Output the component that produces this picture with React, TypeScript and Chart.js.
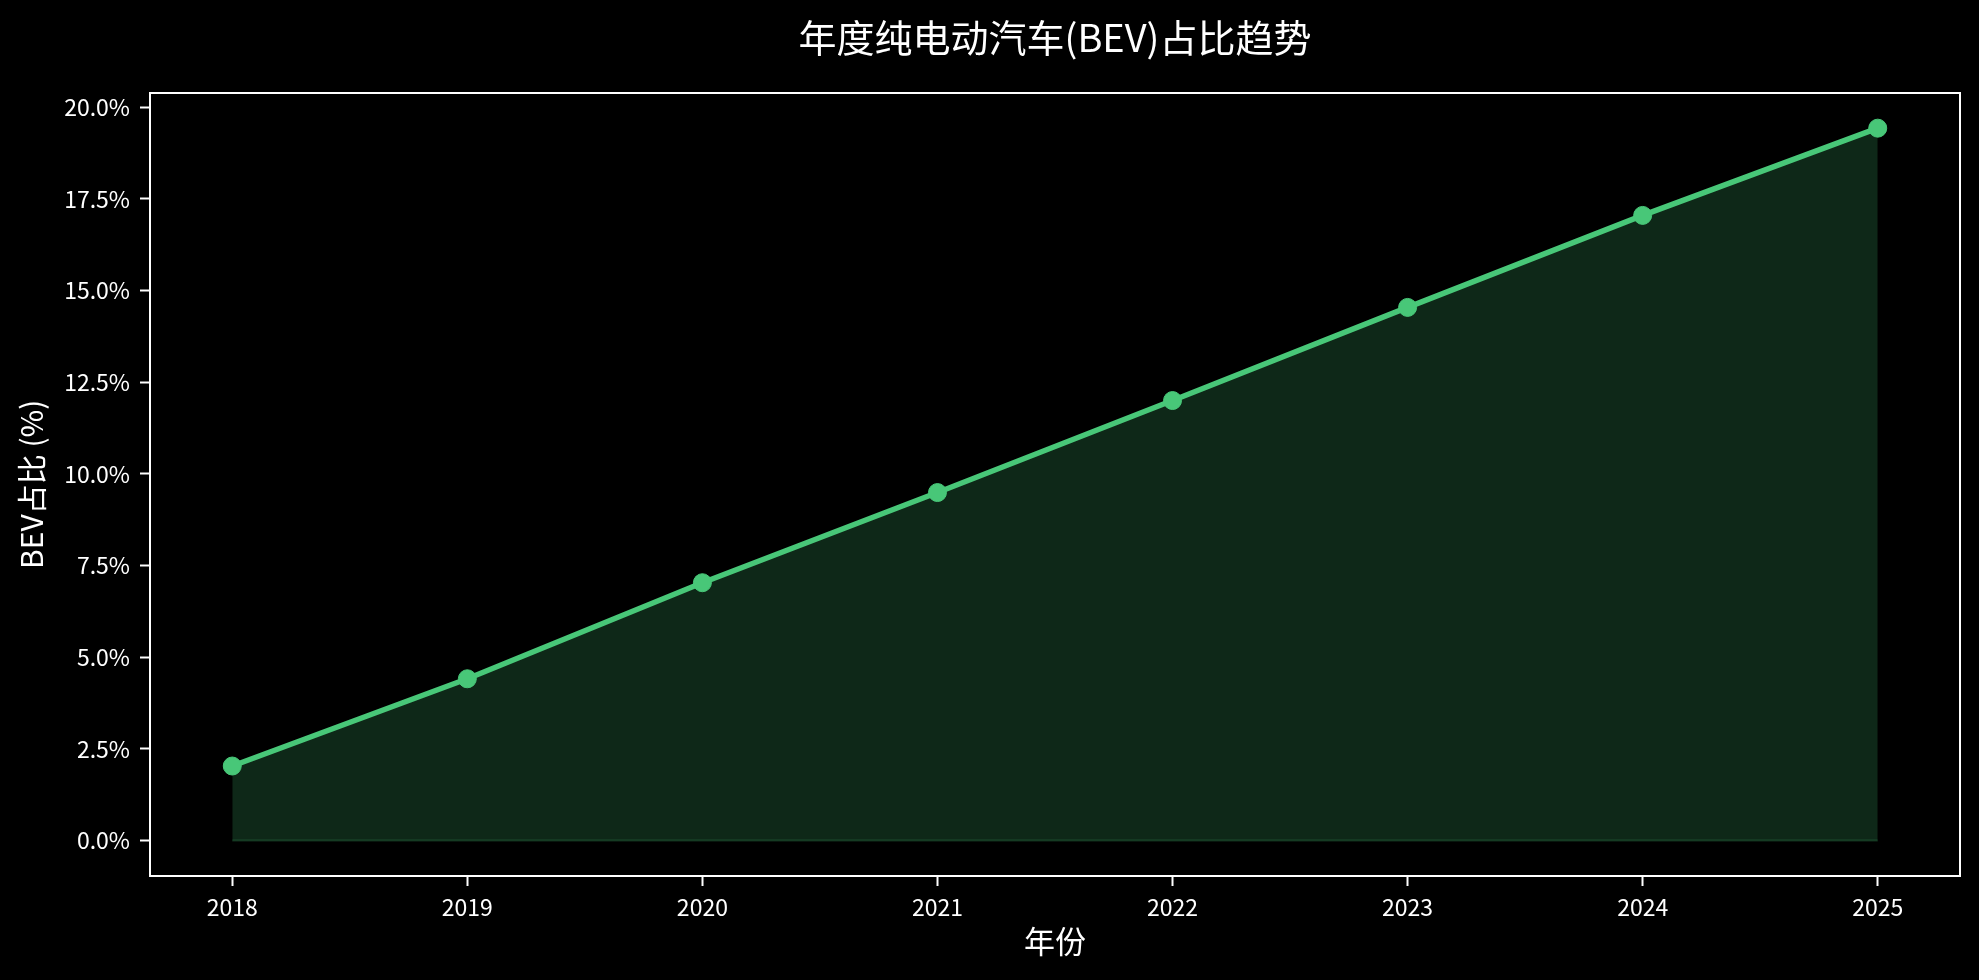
import React, { useEffect, useRef } from "react";
import { Chart, registerables } from "chart.js";

Chart.register(...registerables);

const years = [2018, 2019, 2020, 2021, 2022, 2023, 2024, 2025];
const bevShare = [2.03, 4.41, 7.03, 9.49, 12.0, 14.54, 17.05, 19.43];
const baseline = [0, 0, 0, 0, 0, 0, 0, 0];
const yTicks = [0, 2.5, 5, 7.5, 10, 12.5, 15, 17.5, 20];

const titleText = "年度纯电动汽车(BEV)占比趋势";
const xTitle = "年份";
const yTitle = "BEV占比 (%)";

const FONT = "'Noto Sans CJK SC', 'Noto Sans', sans-serif";
const GREEN = "rgb(72,199,120)";
const GREEN_FILL = "rgba(72,199,120,0.2)";

export default function App() {
  const ref = useRef<HTMLCanvasElement | null>(null);

  useEffect(() => {
    document.body.style.margin = "0";
    document.body.style.background = "#000";
    const canvas = ref.current;
    if (!canvas) return;
    const chart = new Chart(canvas, {
      type: "line",
      data: {
        datasets: [
          {
            label: "BEV",
            data: years.map((y, i) => ({ x: y, y: bevShare[i] })),
            borderColor: GREEN,
            backgroundColor: GREEN_FILL,
            borderWidth: 5.5,
            fill: "origin",
            pointRadius: 9,
            pointBorderWidth: 1,
            pointBackgroundColor: GREEN,
            pointBorderColor: GREEN,
            tension: 0,
            order: 1,
          },
          {
            label: "base",
            data: years.map((y, i) => ({ x: y, y: baseline[i] })),
            borderColor: "rgba(72,199,120,0.22)",
            borderWidth: 2,
            fill: false,
            pointRadius: 0,
            order: 2,
          },
        ],
      },
      options: {
        responsive: false,
        animation: false,
        devicePixelRatio: 1,
        layout: { padding: { left: 0, right: 19, top: 0, bottom: 0 } },
        plugins: {
          legend: { display: false },
          tooltip: { enabled: false },
          title: {
            display: true,
            fullSize: false,
            text: titleText,
            color: "#fff",
            font: { family: FONT, size: 38, weight: "normal" },
            padding: { top: 15, bottom: 32 },
          },
        },
        scales: {
          x: {
            type: "linear",
            min: 2017.65,
            max: 2025.35,
            afterBuildTicks: (s: any) => {
              s.ticks = years.map((v) => ({ value: v }));
            },
            afterFit: (s: any) => {
              s.height = 104;
            },
            ticks: {
              color: "#fff",
              font: { family: FONT, size: 23 },
              padding: 7,
              maxRotation: 0,
              autoSkip: false,
              callback: (v: any) => String(v),
            },
            grid: {
              display: true,
              drawOnChartArea: false,
              drawTicks: true,
              tickLength: 10,
              tickWidth: 2,
              tickColor: "#fff",
            },
            border: { display: true, color: "#fff", width: 2 },
            title: {
              display: true,
              text: xTitle,
              color: "#fff",
              font: { family: FONT, size: 31 },
              padding: { top: 0, bottom: 20 },
            },
          },
          x2: {
            type: "linear",
            position: "top",
            min: 2017.65,
            max: 2025.35,
            afterFit: (s: any) => {
              s.height = 0;
            },
            ticks: { display: false },
            grid: { display: false },
            border: { display: true, color: "#fff", width: 2 },
          },
          y: {
            type: "linear",
            min: -0.97,
            max: 20.4,
            afterBuildTicks: (s: any) => {
              s.ticks = yTicks.map((v) => ({ value: v }));
            },
            afterFit: (s: any) => {
              s.width = 150;
            },
            ticks: {
              color: "#fff",
              font: { family: FONT, size: 23 },
              padding: 10,
              autoSkip: false,
              callback: (v: any) => Number(v).toFixed(1) + "%",
            },
            grid: {
              display: true,
              drawOnChartArea: false,
              drawTicks: true,
              tickLength: 10,
              tickWidth: 2,
              tickColor: "#fff",
            },
            border: { display: true, color: "#fff", width: 2 },
            title: {
              display: true,
              text: yTitle,
              color: "#fff",
              font: { family: FONT, size: 30 },
              padding: { top: 14, bottom: 0 },
            },
          },
          y2: {
            type: "linear",
            position: "right",
            min: -0.97,
            max: 20.4,
            afterFit: (s: any) => {
              s.width = 0;
            },
            ticks: { display: false },
            grid: { display: false },
            border: { display: true, color: "#fff", width: 2 },
          },
        },
      },
    });
    return () => chart.destroy();
  }, []);

  return (
    <div style={{ position: "fixed", left: 0, top: 0, width: 1979, height: 980, background: "#000" }}>
      <canvas ref={ref} width={1979} height={980} style={{ width: 1979, height: 980, display: "block" }} />
    </div>
  );
}
